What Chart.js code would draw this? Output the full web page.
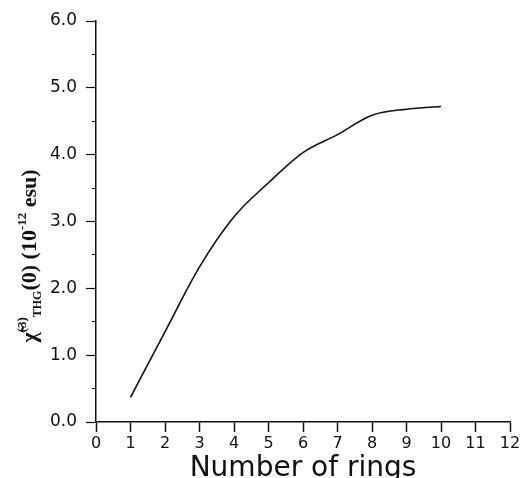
<!DOCTYPE html>
<html>
<head>
<meta charset="utf-8">
<script src="https://cdn.jsdelivr.net/npm/chart.js@4.4.0/dist/chart.umd.min.js"></script>
<style>
    html, body { margin: 0; padding: 0; background: #fff; }
    canvas { display: block; }
</style>
</head>
<body>
<canvas id="myChartRings" width="531" height="478"></canvas>
<script>
// number of rings vs chi(3) THG(0)
const rings    = [1, 2, 3, 4, 5, 6, 7, 8, 9, 10];
const chiValue = [0.37, 1.35, 2.32, 3.07, 3.58, 4.03, 4.30, 4.59, 4.68, 4.72];

const xTitle = 'Number of rings';
// y title pieces: [text, kind] kind: n = normal, sup, sub
const yTitle = [['χ̃', 'n'], ['(3)', 'sup'], ['THG', 'sub'], ['(0) (10', 'n'], ['-12', 'sup'], [' esu)', 'n']];

const INK = '#111';

// draws the rotated y title with super/subscripts
const yTitlePlugin = {
    id: 'yTitle',
    afterDraw(chart) {
        const ctx = chart.ctx;
        const fonts = {
            n:   'bold 22px "Liberation Serif"',
            sup: 'bold 13px "Liberation Serif"',
            sub: 'bold 12px "Liberation Serif"'
        };
        const shift = { n: 0, sup: -10, sub: 5 };
        let total = 0;
        const widths = yTitle.map(p => {
            ctx.font = fonts[p[1]];
            const w = ctx.measureText(p[0]).width;
            total += w;
            return w;
        });
        ctx.save();
        ctx.translate(36, 256);
        ctx.rotate(-Math.PI / 2);
        ctx.fillStyle = INK;
        ctx.textBaseline = 'alphabetic';
        ctx.textAlign = 'left';
        let x = -total / 2;
        yTitle.forEach((p, i) => {
            ctx.font = fonts[p[1]];
            ctx.fillText(p[0], x, shift[p[1]]);
            x += widths[i];
        });
        ctx.restore();
    }
};

const ctxRings = document.getElementById('myChartRings').getContext('2d');

let chartRings = new Chart(ctxRings, {
    type: 'line',
    data: {
        datasets: [{
            label: 'chi3',
            data: rings.map((r, i) => ({ x: r, y: chiValue[i] })),
            borderColor: INK,
            borderWidth: 1.6,
            cubicInterpolationMode: 'monotone',
            pointRadius: 0,
            fill: false
        }]
    },
    options: {
        responsive: false,
        animation: false,
        devicePixelRatio: 1,
        layout: { padding: { left: 0, top: 21, right: 21, bottom: 0 } },
        plugins: {
            legend: { display: false },
            tooltip: { enabled: false }
        },
        scales: {
            x: {
                type: 'linear',
                min: 0,
                max: 12,
                afterFit: s => { s.height = 56; },
                border: { color: INK, width: 1.5 },
                grid: { drawOnChartArea: false, tickLength: 10, tickColor: INK, tickWidth: 1.5 },
                ticks: {
                    stepSize: 1,
                    padding: 2,
                    color: INK,
                    maxRotation: 0,
                    font: { family: '"DejaVu Sans"', size: 16 }
                },
                title: {
                    display: true,
                    text: xTitle,
                    color: INK,
                    padding: { top: 0, bottom: -5 },
                    font: { family: '"DejaVu Sans"', size: 28, lineHeight: 1 }
                }
            },
            y: {
                type: 'linear',
                min: 0,
                max: 6,
                afterFit: s => { s.width = 96; },
                border: { color: INK, width: 1.5 },
                grid: {
                    drawOnChartArea: false,
                    tickLength: 10,
                    tickColor: INK,
                    tickWidth: 1.2,
                    // minor ticks only show the inner 4px
                    tickBorderDash: c => Number.isInteger(c.tick.value) ? [] : [0, 6, 4, 100]
                },
                ticks: {
                    stepSize: 0.5,
                    padding: 9,
                    color: INK,
                    font: { family: '"DejaVu Sans"', size: 17 },
                    callback: v => Number.isInteger(v) ? v.toFixed(1) : ''
                }
            }
        }
    },
    plugins: [yTitlePlugin]
});
</script>
</body>
</html>
